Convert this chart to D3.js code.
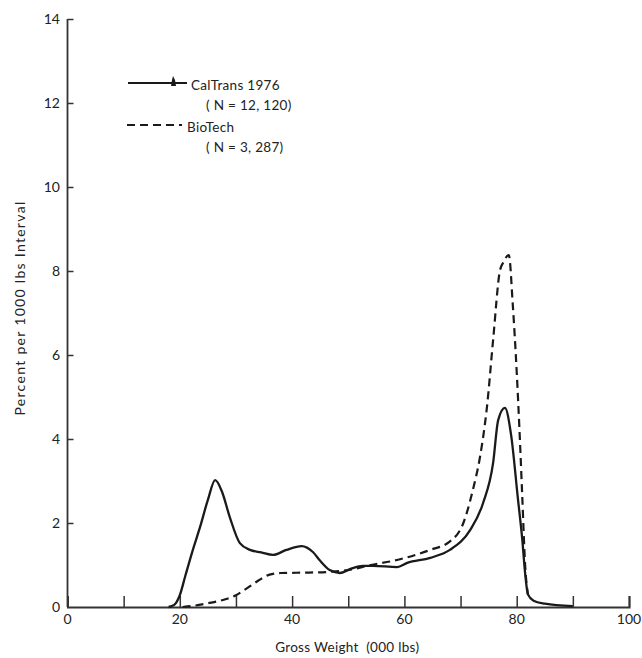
<!DOCTYPE html>
<html>
<head>
<meta charset="utf-8">
<script src="https://cdn.jsdelivr.net/npm/d3@7"></script>
<style>
  body { margin: 0; background: #fff; }
  text { font-family: "Lato", "Open Sans", sans-serif; fill: #222; white-space: pre; }
</style>
</head>
<body>
<script>
// gross weight (000 lbs) vs percent per 1000 lbs interval
const calTrans = [
    [18, 0], [19, 0.05], [20, 0.28], [21, 0.75], [22.3, 1.35], [23.6, 1.9], [25, 2.55],
    [26.3, 3.02], [27.5, 2.75], [28.9, 2.14], [30.7, 1.52], [32.5, 1.36], [34.5, 1.3],
    [36.6, 1.24], [39, 1.36], [41.7, 1.45], [43.7, 1.31], [45, 1.1], [46.7, 0.88],
    [48.5, 0.81], [50.3, 0.9], [52.6, 0.98], [54.4, 0.98], [58.7, 0.95], [60.5, 1.05],
    [64.6, 1.17], [68.1, 1.36], [71.7, 1.83], [74, 2.47], [75.8, 3.43], [76.7, 4.45],
    [77.9, 4.74], [79, 4.1], [80.2, 2.6], [81, 1.6], [81.5, 0.8], [82, 0.3],
    [83, 0.15], [85, 0.08], [90, 0.02]
];
const bioTech = [
    [20.5, 0], [22, 0.02], [25, 0.09], [28, 0.18], [30, 0.28], [32, 0.45], [34, 0.63],
    [36, 0.77], [38, 0.81], [43, 0.82], [47, 0.84], [50, 0.88], [54, 1.0], [58.7, 1.12],
    [64.6, 1.36], [68, 1.55], [70.5, 2.0], [72.2, 2.79], [73.5, 3.6], [74.7, 4.76],
    [75.8, 6.36], [77, 8.0], [77.6, 8.2], [78.6, 8.38], [79.3, 7.2], [80, 5.6],
    [80.5, 4.2], [81, 2.6], [81.5, 1.0], [82, 0.3]
];
const xTicks = [0, 10, 20, 30, 40, 50, 60, 70, 80, 90, 100];
const xLabels = [0, 20, 40, 60, 80, 100];
const yTicks = [0, 2, 4, 6, 8, 10, 12, 14];
const legendNames = ["CalTrans 1976", "BioTech"];
const legendCounts = ["( N = 12, 120)", "( N = 3, 287)"];

const width = 642, height = 658;
const x = d3.scaleLinear().domain([0, 100]).range([67.5, 629]);
const y = d3.scaleLinear().domain([0, 14]).range([607, 19]);

const svg = d3.select("body").append("svg")
    .attr("width", width)
    .attr("height", height);

// axes - ticks point inward like the original
const ax = svg.append("g")
    .attr("transform", `translate(0,${y(0)})`)
    .call(d3.axisTop(x).tickValues(xTicks).tickSize(11).tickFormat(""));
ax.select(".domain").attr("stroke", "#333").attr("stroke-width", 2);
ax.selectAll(".tick line").attr("stroke", "#333").attr("stroke-width", 1.5);

svg.append("g")
    .selectAll("text")
    .data(xLabels)
    .enter()
    .append("text")
    .attr("x", d => x(d))
    .attr("y", 624)
    .attr("text-anchor", "middle")
    .attr("font-size", 14)
    .text(d => d);

const ay = svg.append("g")
    .attr("transform", `translate(${x(0)},0)`)
    .call(d3.axisRight(y).tickValues(yTicks.slice(1)).tickSize(6).tickFormat(""));
ay.select(".domain").attr("stroke", "#333").attr("stroke-width", 1.8)
    .attr("d", `M0,${y(0)}V${y(14)}`);
ay.selectAll(".tick line").attr("stroke", "#333").attr("stroke-width", 1.5);

svg.append("g")
    .selectAll("text")
    .data(yTicks)
    .enter()
    .append("text")
    .attr("x", 60)
    .attr("y", d => y(d) + 5)
    .attr("text-anchor", "end")
    .attr("font-size", 14)
    .text(d => d);

svg.append("text")
    .attr("x", x(50) - 1)
    .attr("y", 652)
    .attr("text-anchor", "middle")
    .attr("font-size", 13.5)
    .attr("letter-spacing", 0.3)
    .text("Gross Weight  (000 lbs)");

svg.append("text")
    .attr("transform", "translate(25,308) rotate(-90)")
    .attr("text-anchor", "middle")
    .attr("font-size", 14)
    .attr("letter-spacing", 1.3)
    .text("Percent per 1000 lbs Interval");

// the two curves
const line = d3.line()
    .x(d => x(d[0]))
    .y(d => y(d[1]))
    .curve(d3.curveMonotoneX);

svg.append("path")
    .attr("d", line(bioTech))
    .attr("fill", "none")
    .attr("stroke", "#1a1a1a")
    .attr("stroke-width", 2.2)
    .attr("stroke-dasharray", "8,5");

svg.append("path")
    .attr("d", line(calTrans))
    .attr("fill", "none")
    .attr("stroke", "#1a1a1a")
    .attr("stroke-width", 2.3);

// legend
const lg = svg.append("g");
lg.append("line")
    .attr("x1", 128).attr("x2", 187).attr("y1", 83).attr("y2", 83)
    .attr("stroke", "#1a1a1a").attr("stroke-width", 1.8);
lg.append("path")
    .attr("d", "M173,76 L175,80 L176,86 L171,86 L172,80 Z")
    .attr("fill", "#1a1a1a");
lg.append("line")
    .attr("x1", 127).attr("x2", 182).attr("y1", 125).attr("y2", 125)
    .attr("stroke", "#1a1a1a").attr("stroke-width", 1.8)
    .attr("stroke-dasharray", "8,5");

lg.selectAll(".name")
    .data(legendNames)
    .enter()
    .append("text")
    .attr("class", "name")
    .attr("x", (d, i) => i == 0 ? 191 : 187)
    .attr("y", (d, i) => i == 0 ? 90 : 132)
    .attr("font-size", 13.5)
    .attr("letter-spacing", 0.3)
    .text(d => d);

lg.selectAll(".count")
    .data(legendCounts)
    .enter()
    .append("text")
    .attr("class", "count")
    .attr("x", 206)
    .attr("y", (d, i) => i == 0 ? 110 : 152)
    .attr("font-size", 13.5)
    .attr("letter-spacing", 0.3)
    .text(d => d);
</script>
</body>
</html>
